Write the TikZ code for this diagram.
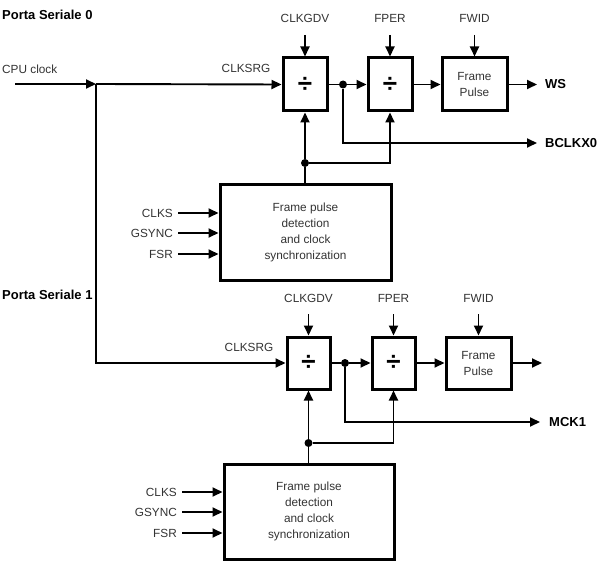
\documentclass[tikz,border=0pt]{standalone}
\usepackage{fontspec}
\setmainfont{Liberation Sans}
\usetikzlibrary{arrows.meta}
\definecolor{txt}{HTML}{333333}
\tikzset{
  wire/.style={line width=1.9bp, -{Triangle[length=10bp,width=9bp]}},
  plain/.style={line width=1.9bp},
  blk/.style={draw, line width=3bp, inner sep=0pt, align=center, font=\fontsize{11.8bp}{16bp}\selectfont, text=txt},
  divbox/.style={blk, minimum width=44bp, minimum height=53bp, font=\bfseries\fontsize{26bp}{26bp}\selectfont, text=black},
  lbl/.style={inner sep=0pt, font=\fontsize{11.8bp}{14bp}\selectfont, text=txt},
  big/.style={inner sep=0pt, font=\bfseries\fontsize{13bp}{15bp}\selectfont},
  dot/.style={circle, fill=black, inner sep=0pt, minimum size=8bp}
}
\begin{document}
\begin{tikzpicture}[x=1bp,y=-1bp]
\useasboundingbox (0,0) rectangle (602,575);

% ---------- Porta Seriale 0 ----------
\node[big, anchor=west] (p0) at (2,15) {Porta Seriale 0};
\node[lbl, anchor=west] (cpul) at (2,69) {CPU clock};
\coordinate (cpu) at (15,84);
\coordinate (j) at (96,84);

\node[divbox] (d1) at (305,84.5) {÷};
\node[divbox] (d2) at (390,84.5) {÷};
\node[blk, minimum width=65bp, minimum height=53bp] (fp) at (474.5,84.5) {Frame\\Pulse};
\node[blk, minimum width=171bp, minimum height=95bp] (sy) at (305.5,232.5) {Frame pulse\\detection\\and clock\\synchronization};

\node[lbl] (l1) at (305,18) {CLKGDV};
\node[lbl] (l2) at (390,18) {FPER};
\node[lbl] (l3) at (474.5,18) {FWID};
\node[lbl] (cs0) at (246,68) {CLKSRG};
\coordinate (a1) at (305,35);
\coordinate (a2) at (390,35);
\coordinate (a3) at (474.5,35);
\draw[wire] (a1) -- (d1.north);
\draw[wire] (a2) -- (d2.north);
\draw[wire] (a3) -- (fp.north);

\draw[wire] (cpu) -- (j);
\draw[wire] (j) -- (d1.west);
\node[dot] (b0) at (343,84.5) {};
\draw[plain] (d1.east) -- (b0);
\draw[wire] (b0) -- (d2.west);
\draw[wire] (d2.east) -- (fp.west);
\coordinate (ws) at (537,84.5);
\node[big, anchor=west] (wsl) at (545,84.5) {WS};
\draw[wire] (fp.east) -- (ws);
\coordinate (bk) at (537,143);
\node[big, anchor=west] (bkl) at (545,143) {BCLKX0};
\draw[wire] (b0) |- (bk);

\node[dot] (s0) at (305,163) {};
\draw[plain] (sy.north -| s0) -- (s0);
\draw[wire] (s0) -- (d1.south);
\draw[wire] (s0) -| (d2.south);

\node[lbl, anchor=east] (c1) at (173,213) {CLKS};
\node[lbl, anchor=east] (c2) at (173,233) {GSYNC};
\node[lbl, anchor=east] (c3) at (173,254) {FSR};
\coordinate (i1) at (178,213);
\coordinate (i2) at (178,233);
\coordinate (i3) at (178,254);
\draw[wire] (i1) -- (i1 -| sy.west);
\draw[wire] (i2) -- (i2 -| sy.west);
\draw[wire] (i3) -- (i3 -| sy.west);

% ---------- Porta Seriale 1 ----------
\node[big, anchor=west] (p1) at (2,295) {Porta Seriale 1};

\node[divbox, minimum width=43bp, minimum height=52bp] (e1) at (308.5,363) {÷};
\node[divbox, minimum width=43bp, minimum height=52bp] (e2) at (393.5,363) {÷};
\node[blk, minimum width=65bp, minimum height=52bp] (gp) at (478.5,363) {Frame\\Pulse};
\node[blk, minimum width=170bp, minimum height=95bp] (sz) at (309,511.5) {Frame pulse\\detection\\and clock\\synchronization};

\node[lbl] (m1) at (308.5,298) {CLKGDV};
\node[lbl] (m2) at (393.5,298) {FPER};
\node[lbl] (m3) at (478.5,298) {FWID};
\node[lbl] (cs1) at (249,347) {CLKSRG};
\coordinate (b1) at (308.5,314);
\coordinate (b2) at (393.5,314);
\coordinate (b3) at (478.5,314);
\draw[wire] (b1) -- (e1.north);
\draw[wire] (b2) -- (e2.north);
\draw[wire] (b3) -- (gp.north);

\draw[wire] (j) |- (e1.west);
\node[dot] (k1) at (345,363) {};
\draw[plain] (e1.east) -- (k1);
\draw[wire] (k1) -- (e2.west);
\draw[wire] (e2.east) -- (gp.west);
\coordinate (o1) at (542,363);
\draw[wire] (gp.east) -- (o1);
\coordinate (mk) at (540,422);
\node[big, anchor=west] (mkl) at (549,422) {MCK1};
\draw[wire] (k1) |- (mk);

\node[dot] (s1) at (308.5,443) {};
\draw[plain] (sz.north -| s1) -- (s1);
\draw[wire] (s1) -- (e1.south);
\draw[wire] (s1) -| (e2.south);

\node[lbl, anchor=east] (n1) at (177,492) {CLKS};
\node[lbl, anchor=east] (n2) at (177,512) {GSYNC};
\node[lbl, anchor=east] (n3) at (177,533) {FSR};
\coordinate (h1) at (182,492);
\coordinate (h2) at (182,512);
\coordinate (h3) at (182,533);
\draw[wire] (h1) -- (h1 -| sz.west);
\draw[wire] (h2) -- (h2 -| sz.west);
\draw[wire] (h3) -- (h3 -| sz.west);
\end{tikzpicture}
\end{document}
